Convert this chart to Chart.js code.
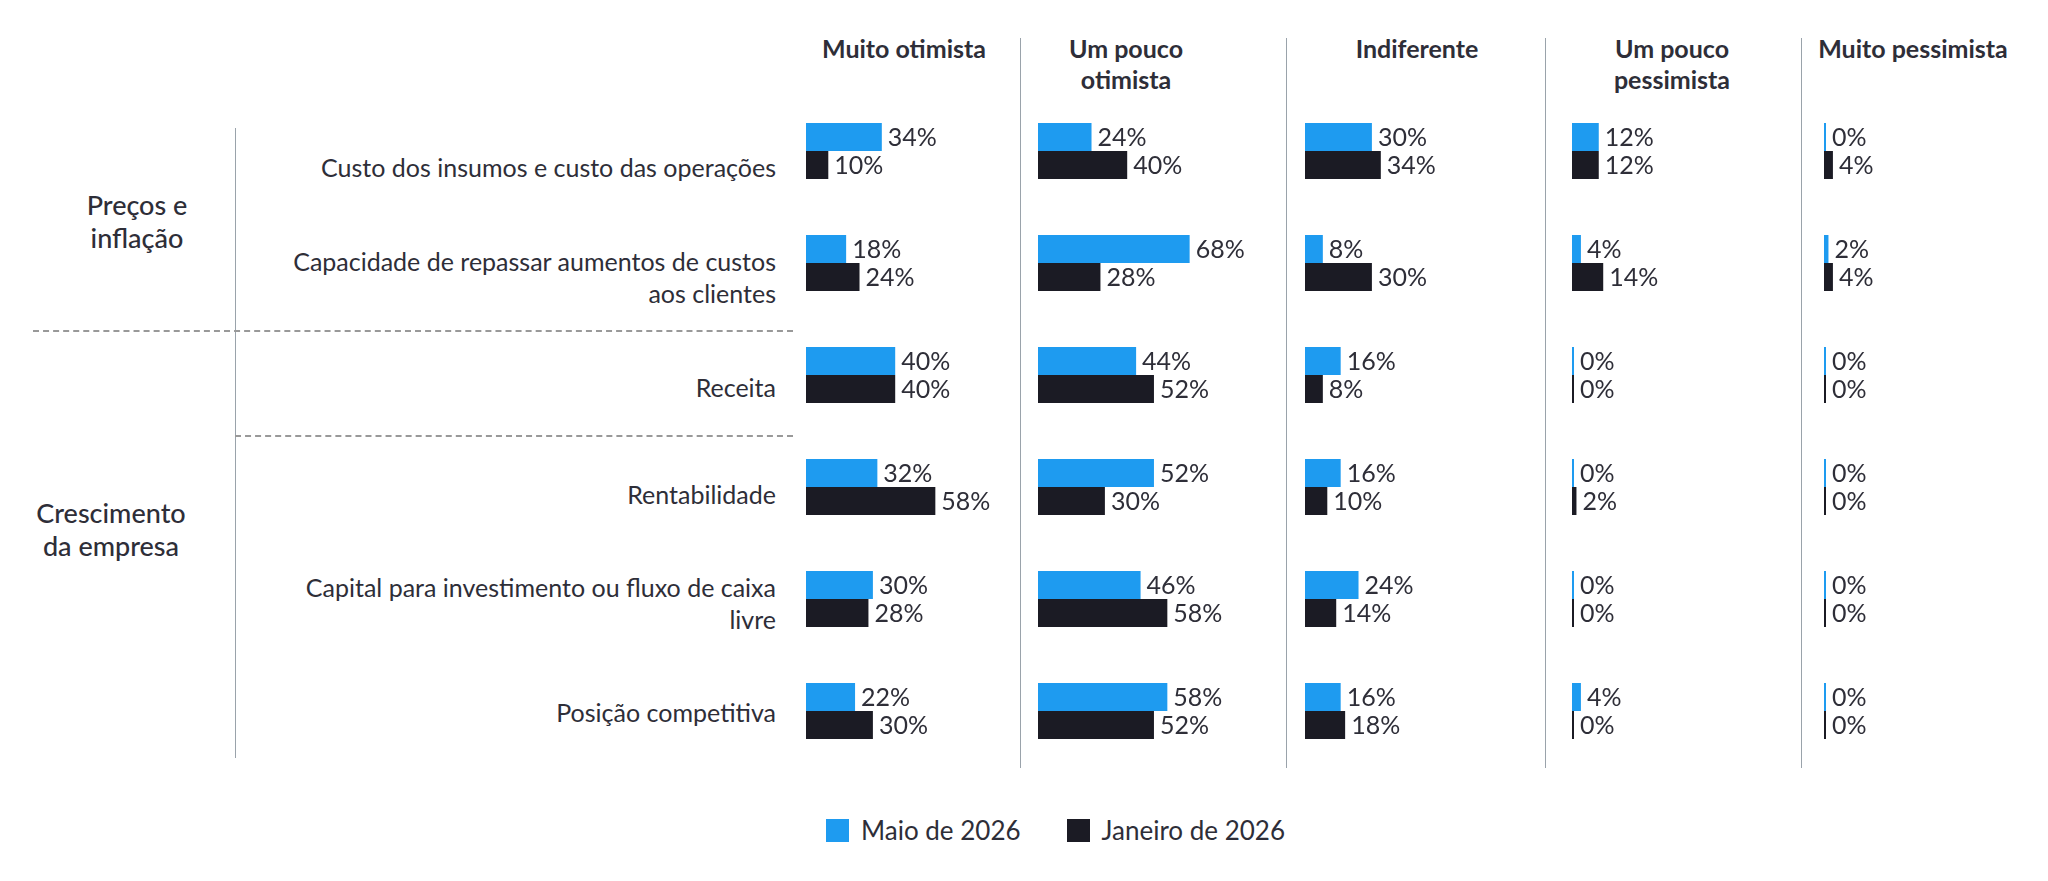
<!DOCTYPE html>
<html><head><meta charset="utf-8">
<script src="https://cdn.jsdelivr.net/npm/chart.js@4/dist/chart.umd.min.js"></script>
<style>
body{margin:0;background:#fff;width:2048px;height:881px;position:relative;overflow:hidden;font-family:Lato,"Noto Sans",sans-serif;color:#2e2e38}
.abs{position:absolute}
.hdr{font-weight:bold;font-size:25px;text-align:center;width:260px;line-height:31px}
.rl{font-size:25px;text-align:right;width:620px;left:156px;line-height:32px}
.grp{font-size:27px;text-align:center;width:220px;line-height:33px;font-weight:500}
.vl{position:absolute;width:1px;background:#9aa3ab}
.dash{position:absolute;height:0;border-top:2px dashed #999}
.leg{font-size:26px;display:flex;align-items:center;gap:12px}
.sw{width:23px;height:23px;display:inline-block}
</style></head><body>
<script>
const categories=["Custo dos insumos e custo das operações","Capacidade de repassar aumentos de custos aos clientes","Receita","Rentabilidade","Capital para investimento ou fluxo de caixa livre","Posição competitiva"];
const columns=["Muito otimista","Um pouco otimista","Indiferente","Um pouco pessimista","Muito pessimista"];
const seriesNames=["Maio de 2026","Janeiro de 2026"];
const maio=[[34,18,40,32,30,22],[24,68,44,52,46,58],[30,8,16,16,24,16],[12,4,0,0,0,4],[0,2,0,0,0,0]];
const janeiro=[[10,24,40,58,28,30],[40,28,52,30,58,52],[34,30,8,10,14,18],[12,14,0,2,0,0],[4,4,0,0,0,0]];
const groups=["Preços e inflação","Crescimento da empresa"];
</script>
<script>
const BLUE='#1e9bf0',DARK='#1b1b24';
const root=document.body;
function el(cls,style,html){const d=document.createElement('div');d.className=cls;Object.assign(d.style,style);d.innerHTML=html||'';root.appendChild(d);return d;}
const hdrX=[904,1126,1417,1672,1913];
const hdrTxt=["Muito otimista","Um pouco<br>otimista","Indiferente","Um pouco<br>pessimista","Muito pessimista"];
hdrTxt.forEach((t,i)=>el('abs hdr',{left:(hdrX[i]-130)+'px',top:'33px'},t));
[1020,1286,1545,1801].forEach(x=>el('vl',{left:x+'px',top:'38px',height:'730px'}));
el('vl',{left:'235px',top:'128px',height:'630px'});
el('dash',{left:'33px',top:'330px',width:'760px'});
el('dash',{left:'235px',top:'435px',width:'558px'});
el('abs grp',{left:'27px',top:'188px'},"Preços e<br>inflação");
el('abs grp',{left:'1px',top:'496px'},"Crescimento<br>da empresa");
const labelY=[167,277,387,494,603,712];
const rowTxt=["Custo dos insumos e custo das operações","Capacidade de repassar aumentos de custos<br>aos clientes","Receita","Rentabilidade","Capital para investimento ou fluxo de caixa<br>livre","Posição competitiva"];
rowTxt.forEach((t,i)=>{const h=t.includes('<br>')?64:32;el('abs rl',{top:(labelY[i]-h/2)+'px'},t);});
const barX=[806,1038,1305,1572,1824];
const labelPlugin={id:'lbl',afterDatasetsDraw(c){const ctx=c.ctx;ctx.save();ctx.font='25px Lato, "Noto Sans", sans-serif';ctx.fillStyle='#2e2e38';ctx.textBaseline='middle';
c.data.datasets.forEach((ds,di)=>{c.getDatasetMeta(di).data.forEach((b,i)=>{ctx.fillText(ds.data[i]+'%',Math.max(b.x,b.base+2)+6,b.y+1);});});ctx.restore();}};
barX.forEach((x,ci)=>{
  const w=document.createElement('div');Object.assign(w.style,{position:'absolute',left:x+'px',top:'95px',width:'215px',height:'672px'});
  const cv=document.createElement('canvas');w.appendChild(cv);root.appendChild(w);
  new Chart(cv,{type:'bar',data:{labels:categories,datasets:[
    {label:seriesNames[0],data:maio[ci],backgroundColor:BLUE,minBarLength:2},
    {label:seriesNames[1],data:janeiro[ci],backgroundColor:DARK,minBarLength:2}]},
   options:{indexAxis:'y',responsive:true,maintainAspectRatio:false,animation:false,
    categoryPercentage:0.5,barPercentage:1,layout:{padding:0},
    scales:{x:{display:false,min:0,max:215/2.23},y:{display:false}},
    plugins:{legend:{display:false},tooltip:{enabled:false}}},plugins:[labelPlugin]});
});
el('abs leg',{left:'826px',top:'814px'},`<span class="sw" style="background:${BLUE}"></span><span>${seriesNames[0]}</span><span style="width:22px"></span><span class="sw" style="background:${DARK}"></span><span>${seriesNames[1]}</span>`);
</script>
</body></html>
